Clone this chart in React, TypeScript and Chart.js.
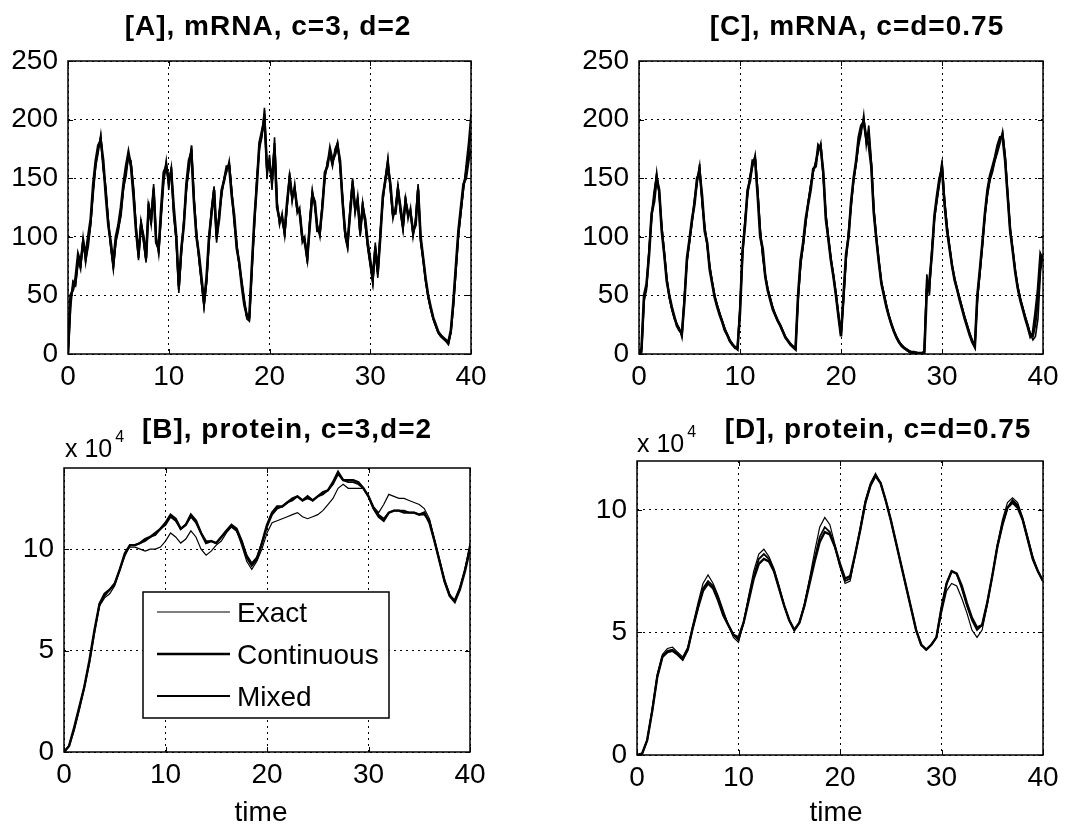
import React, { useEffect, useRef } from "react";
import { Chart, registerables } from "chart.js";

Chart.register(...registerables);

// ---------------- data ----------------
const SERIES_NAMES = ["Exact", "Continuous", "Mixed"];
const X_TICKS = [0, 10, 20, 30, 40];
const MRNA_Y_TICKS = [0, 50, 100, 150, 200, 250];
const PROTEIN_Y_TICKS = [0, 5, 10];
const MRNA_TIME_STEP = 0.25; // time between samples, mRNA panels
const PROTEIN_TIME_STEP = 0.5; // time between samples, protein panels (x 10^4)

// [A] mRNA, c=3, d=2
const exactA = [
  0, 45, 60, 58, 80, 72, 100, 78,
  95, 110, 140, 160, 172, 187, 160, 140,
  115, 90, 72, 95, 105, 120, 140, 155,
  168, 165, 140, 110, 80, 115, 95, 78,
  130, 110, 145, 100, 85, 120, 150, 165,
  140, 160, 120, 95, 52, 85, 115, 140,
  160, 178, 135, 105, 80, 60, 40, 60,
  95, 125, 143, 95, 120, 135, 150, 155,
  165, 140, 115, 95, 75, 60, 45, 30,
  28, 70, 110, 150, 175, 185, 210, 150,
  170, 140, 185, 130, 110, 120, 100, 125,
  155, 130, 145, 120, 125, 95, 100, 77,
  115, 140, 125, 110, 100, 130, 150, 165,
  170, 160, 175, 180, 160, 135, 100, 90,
  125, 150, 120, 135, 100, 130, 110, 90,
  75, 60, 95, 65, 105, 130, 150, 167,
  140, 115, 125, 145, 120, 105, 135, 115,
  125, 100, 115, 145, 95, 80, 62, 48,
  38, 30, 24, 18, 15, 13, 11, 8,
  18, 40, 70, 100, 120, 140, 160, 180,
  205,
];
const continuousA = [
  0, 50, 55, 65, 85, 78, 95, 85,
  100, 115, 145, 165, 178, 182, 165, 135,
  110, 95, 78, 100, 110, 125, 145, 160,
  172, 160, 135, 105, 85, 110, 100, 82,
  125, 115, 140, 95, 90, 125, 155, 160,
  150, 155, 125, 100, 58, 90, 110, 145,
  165, 172, 130, 100, 85, 65, 45, 65,
  100, 120, 140, 100, 115, 140, 148, 160,
  160, 135, 118, 90, 78, 58, 42, 33,
  32, 75, 115, 145, 180, 190, 200, 160,
  160, 150, 175, 125, 115, 115, 105, 130,
  150, 135, 140, 125, 120, 100, 95, 82,
  110, 135, 130, 105, 105, 125, 155, 160,
  175, 165, 170, 178, 165, 130, 105, 95,
  120, 145, 125, 130, 105, 125, 115, 95,
  80, 65, 90, 70, 100, 135, 148, 160,
  145, 120, 120, 140, 125, 110, 130, 120,
  120, 105, 110, 140, 100, 82, 64, 50,
  40, 31, 25, 19, 16, 14, 12, 10,
  20, 45, 75, 105, 125, 145, 150, 165,
  175,
];
const mixedA = [
  0, 40, 62, 60, 78, 75, 98, 80,
  92, 112, 138, 162, 175, 185, 158, 142,
  112, 92, 75, 98, 108, 118, 142, 152,
  170, 162, 142, 108, 82, 112, 98, 80,
  128, 112, 142, 98, 88, 118, 148, 162,
  145, 158, 118, 98, 55, 88, 112, 142,
  158, 175, 132, 102, 82, 62, 42, 62,
  98, 122, 140, 98, 118, 138, 150, 158,
  162, 138, 112, 92, 76, 62, 46, 32,
  30, 72, 112, 148, 178, 188, 205, 155,
  165, 145, 180, 128, 112, 118, 102, 128,
  152, 132, 142, 122, 122, 98, 98, 80,
  112, 138, 128, 108, 102, 128, 152, 162,
  172, 162, 172, 180, 162, 132, 102, 92,
  122, 148, 122, 132, 102, 128, 112, 92,
  78, 62, 92, 68, 102, 132, 150, 165,
  142, 118, 122, 142, 122, 108, 132, 118,
  122, 102, 112, 142, 98, 81, 63, 49,
  39, 30, 24, 18, 15, 13, 11, 9,
  19, 42, 72, 102, 122, 142, 155, 172,
  190,
];

// [C] mRNA, c=d=0.75
const exactC = [
  0, 0, 45, 55, 90, 115, 135, 155,
  135, 110, 88, 65, 48, 38, 30, 26,
  22, 14, 50, 78, 95, 112, 130, 145,
  162, 128, 110, 92, 76, 62, 50, 42,
  35, 28, 22, 17, 12, 9, 6, 5,
  40, 85, 115, 135, 150, 160, 170, 140,
  108, 82, 68, 56, 48, 40, 34, 29,
  25, 20, 15, 12, 9, 7, 5, 45,
  75, 92, 110, 130, 145, 155, 165, 172,
  180, 150, 120, 100, 82, 68, 52, 35,
  17, 45, 80, 105, 125, 148, 162, 178,
  188, 204, 178, 195, 165, 125, 100, 80,
  62, 52, 42, 33, 26, 20, 15, 11,
  8, 6, 4, 3, 2, 2, 1, 1,
  1, 2, 68, 50, 90, 115, 130, 145,
  165, 132, 110, 92, 76, 65, 56, 48,
  40, 32, 25, 18, 12, 7, 45, 68,
  92, 118, 135, 148, 155, 165, 172, 180,
  190, 170, 138, 108, 90, 72, 58, 48,
  40, 32, 25, 17, 12, 15, 30, 70,
  85,
];
const continuousC = [
  0, 5, 50, 60, 85, 120, 130, 150,
  140, 105, 85, 62, 50, 40, 32, 24,
  20, 18, 45, 82, 98, 115, 128, 150,
  155, 135, 105, 95, 72, 60, 48, 40,
  33, 27, 20, 16, 11, 8, 6, 4,
  35, 88, 110, 140, 148, 165, 165, 135,
  100, 90, 66, 54, 46, 38, 33, 28,
  24, 19, 14, 11, 8, 6, 4, 50,
  80, 95, 115, 128, 140, 158, 160, 178,
  175, 155, 115, 98, 80, 66, 50, 32,
  15, 50, 85, 100, 130, 150, 165, 185,
  195, 198, 185, 178, 160, 120, 98, 78,
  60, 50, 40, 32, 25, 19, 14, 10,
  7, 5, 4, 2, 1, 1, 1, 0,
  0, 1, 55, 62, 85, 118, 135, 150,
  158, 128, 105, 90, 75, 63, 55, 46,
  38, 30, 23, 16, 10, 6, 50, 72,
  95, 120, 140, 152, 160, 168, 178, 185,
  185, 165, 135, 105, 88, 70, 56, 46,
  38, 30, 23, 15, 18, 35, 55, 85,
  80,
];
const mixedC = [
  0, 2, 48, 58, 88, 118, 138, 152,
  138, 108, 86, 64, 49, 39, 31, 25,
  21, 16, 48, 80, 96, 113, 132, 148,
  160, 130, 108, 94, 74, 61, 49, 41,
  34, 28, 21, 16, 11, 8, 5, 5,
  38, 86, 112, 138, 152, 162, 168, 138,
  105, 85, 67, 55, 47, 39, 33, 28,
  24, 19, 14, 11, 8, 6, 5, 48,
  78, 93, 112, 129, 143, 156, 163, 175,
  178, 152, 118, 99, 81, 67, 51, 33,
  16, 48, 82, 102, 128, 149, 163, 182,
  192, 200, 182, 188, 162, 122, 99, 79,
  61, 51, 41, 32, 25, 19, 14, 10,
  7, 5, 3, 2, 1, 1, 1, 1,
  1, 2, 62, 55, 88, 116, 133, 148,
  162, 130, 108, 91, 75, 64, 55, 47,
  39, 31, 24, 17, 11, 6, 48, 70,
  94, 119, 138, 150, 158, 166, 175, 183,
  188, 168, 136, 106, 89, 71, 57, 47,
  39, 31, 24, 16, 15, 25, 45, 78,
  82,
];

// [B] protein, c=3, d=2  (units of 10^4)
const exactB = [
  0, 0.3, 1.2, 2.2, 3.2, 4.5, 6.0, 7.2, 7.6, 7.8,
  8.2, 9.0, 9.8, 10.1, 10.1, 10.0, 9.9, 10.0, 10.0, 10.1,
  10.4, 10.8, 10.6, 10.3, 10.5, 10.9, 10.6, 10.0, 9.7, 9.9,
  10.2, 10.4, 10.8, 11.1, 10.9, 10.2, 9.4, 9.0, 9.4, 10.0,
  10.8, 11.3, 11.4, 11.5, 11.6, 11.7, 11.8, 11.6, 11.5, 11.6,
  11.7, 11.9, 12.2, 12.5, 13.0, 13.2, 13.0, 13.0, 13.0, 13.0,
  12.6, 12.1, 11.8, 12.2, 12.7, 12.6, 12.5, 12.5, 12.4, 12.3,
  12.2, 12.0, 11.5, 10.5, 9.5, 8.5, 7.8, 7.4, 8.1, 9.0,
  10.3,
];
const continuousB = [
  0, 0.3, 1.2, 2.2, 3.2, 4.5, 6.0, 7.3, 7.8, 8.0,
  8.3, 9.0, 9.8, 10.2, 10.2, 10.3, 10.5, 10.6, 10.8, 11.0,
  11.3, 11.7, 11.5, 11.0, 11.2, 11.7, 11.4, 10.8, 10.3, 10.4,
  10.3, 10.6, 10.9, 11.2, 11.0, 10.4, 9.6, 9.2, 9.5, 10.3,
  11.2, 11.8, 12.1, 12.1, 12.3, 12.5, 12.6, 12.4, 12.6, 12.4,
  12.6, 12.8, 12.9, 13.3, 13.8, 13.4, 13.4, 13.4, 13.3, 13.0,
  12.6, 12.0, 11.6, 11.4, 11.8, 11.9, 11.9, 11.8, 11.8, 11.8,
  11.7, 11.8, 11.3, 10.4, 9.4, 8.4, 7.7, 7.4, 8.0, 8.9,
  10.0,
];
const mixedB = [
  0, 0.3, 1.1, 2.1, 3.2, 4.4, 5.9, 7.3, 7.7, 8.0,
  8.3, 9.0, 9.7, 10.2, 10.2, 10.3, 10.4, 10.6, 10.7, 11.0,
  11.2, 11.6, 11.4, 11.0, 11.2, 11.6, 11.3, 10.8, 10.4, 10.4,
  10.3, 10.6, 10.9, 11.1, 10.9, 10.4, 9.7, 9.3, 9.6, 10.3,
  11.1, 11.7, 12.0, 12.1, 12.3, 12.4, 12.6, 12.4, 12.5, 12.4,
  12.6, 12.7, 12.9, 13.2, 13.7, 13.4, 13.3, 13.3, 13.2, 13.0,
  12.6, 12.0, 11.7, 11.5, 11.8, 11.9, 11.9, 11.9, 11.8, 11.8,
  11.7, 11.7, 11.4, 10.4, 9.4, 8.4, 7.7, 7.5, 8.1, 9.0,
  10.1,
];

// [D] protein, c=d=0.75  (units of 10^4)
const exactD = [
  0, 0.05, 0.6, 1.9, 3.3, 4.1, 4.35, 4.4, 4.2, 4.0,
  4.4, 5.3, 6.2, 7.0, 7.35, 7.0, 6.5, 5.9, 5.3, 4.8,
  4.6, 5.4, 6.5, 7.5, 8.2, 8.4, 8.1, 7.6, 6.9, 6.1,
  5.5, 5.1, 5.4, 6.2, 7.2, 8.3, 9.3, 9.7, 9.4, 8.6,
  7.7, 7.0, 7.1, 8.2, 9.3, 10.4, 11.1, 11.5, 11.1, 10.4,
  9.6, 8.7, 7.8, 6.9, 6.0, 5.1, 4.5, 4.3, 4.5, 4.8,
  5.8, 6.7, 7.0, 6.9, 6.4, 5.8, 5.1, 4.8, 5.1, 6.1,
  7.3, 8.6, 9.6, 10.3, 10.5, 10.3, 9.7, 8.9, 8.1, 7.5,
  7.1,
];
const continuousD = [
  0, 0.05, 0.6, 1.8, 3.2, 4.0, 4.2, 4.25, 4.1, 3.9,
  4.3, 5.2, 6.0, 6.7, 7.0, 6.8, 6.3, 5.7, 5.3, 4.9,
  4.8, 5.4, 6.3, 7.2, 7.8, 8.0, 7.9, 7.5, 6.8, 6.1,
  5.5, 5.1, 5.4, 6.1, 7.0, 7.9, 8.7, 9.1, 9.0, 8.5,
  7.8, 7.2, 7.3, 8.2, 9.2, 10.3, 11.0, 11.4, 11.1, 10.4,
  9.6, 8.7, 7.8, 6.9, 6.0, 5.1, 4.5, 4.3, 4.5, 4.8,
  6.0, 7.0, 7.5, 7.4, 6.9, 6.2, 5.6, 5.2, 5.3, 6.2,
  7.3, 8.5, 9.4, 10.1, 10.3, 10.1, 9.6, 8.8, 8.0, 7.5,
  7.1,
];
const mixedD = [
  0, 0.05, 0.6, 1.8, 3.2, 4.0, 4.25, 4.3, 4.15, 3.9,
  4.3, 5.2, 6.0, 6.8, 7.1, 6.9, 6.4, 5.8, 5.3, 4.9,
  4.7, 5.4, 6.4, 7.3, 8.0, 8.2, 8.0, 7.5, 6.8, 6.1,
  5.5, 5.1, 5.4, 6.1, 7.1, 8.0, 8.9, 9.3, 9.1, 8.5,
  7.7, 7.1, 7.2, 8.2, 9.2, 10.3, 11.0, 11.4, 11.1, 10.4,
  9.6, 8.7, 7.8, 6.9, 6.0, 5.1, 4.5, 4.3, 4.5, 4.8,
  6.0, 7.0, 7.5, 7.4, 6.8, 6.1, 5.5, 5.1, 5.3, 6.2,
  7.3, 8.5, 9.4, 10.1, 10.4, 10.2, 9.6, 8.8, 8.0, 7.5,
  7.1,
];

// ---------------- styling / layout ----------------
const FONT = '"Liberation Sans", Arial, Helvetica, sans-serif';
const PROTEIN_LINE_WIDTHS = [1.2, 2.4, 1.8];
const MRNA_LINE_WIDTHS = [1.6, 2.6, 2.0];
const TICK_FONT_SIZE = 28;
const TITLE_FONT = `bold 28px ${FONT}`;
const INNER_TICK = 5;

type Panel = {
  key: string;
  title: string;
  canvas: { left: number; top: number; width: number; height: number };
  plot: { l: number; t: number; r: number; b: number };
  yMax: number;
  yTicks: number[];
  step: number;
  series: number[][];
  widths: number[];
  titleX: number;
  titleY: number;
  multiplier?: { x: number; y: number };
  xLabel?: { x: number; y: number };
  legend?: { l: number; t: number; r: number; b: number };
};

const PANELS: Panel[] = [
  {
    key: "A",
    title: "[A], mRNA, c=3, d=2",
    canvas: { left: 0, top: 0, width: 540, height: 400 },
    plot: { l: 68, t: 61, r: 471, b: 354 },
    yMax: 250,
    yTicks: MRNA_Y_TICKS,
    step: MRNA_TIME_STEP,
    series: [exactA, continuousA, mixedA],
    widths: MRNA_LINE_WIDTHS,
    titleX: 268,
    titleY: 35,
  },
  {
    key: "C",
    title: "[C], mRNA, c=d=0.75",
    canvas: { left: 540, top: 0, width: 538, height: 400 },
    plot: { l: 639, t: 61, r: 1043, b: 354 },
    yMax: 250,
    yTicks: MRNA_Y_TICKS,
    step: MRNA_TIME_STEP,
    series: [exactC, continuousC, mixedC],
    widths: MRNA_LINE_WIDTHS,
    titleX: 857,
    titleY: 35,
  },
  {
    key: "B",
    title: "[B], protein, c=3,d=2",
    canvas: { left: 0, top: 400, width: 540, height: 429 },
    plot: { l: 64, t: 468, r: 470, b: 752 },
    yMax: 14,
    yTicks: PROTEIN_Y_TICKS,
    step: PROTEIN_TIME_STEP,
    series: [exactB, continuousB, mixedB],
    widths: PROTEIN_LINE_WIDTHS,
    titleX: 287,
    titleY: 438,
    multiplier: { x: 65, y: 457 },
    xLabel: { x: 261, y: 821 },
    legend: { l: 143, t: 592, r: 389, b: 718 },
  },
  {
    key: "D",
    title: "[D], protein, c=d=0.75",
    canvas: { left: 540, top: 400, width: 538, height: 429 },
    plot: { l: 637, t: 461, r: 1043, b: 755 },
    yMax: 12,
    yTicks: PROTEIN_Y_TICKS,
    step: PROTEIN_TIME_STEP,
    series: [exactD, continuousD, mixedD],
    widths: PROTEIN_LINE_WIDTHS,
    titleX: 878,
    titleY: 438,
    multiplier: { x: 637, y: 452 },
    xLabel: { x: 836, y: 821 },
  },
];

function decorPlugin(p: Panel) {
  const ox = p.canvas.left;
  const oy = p.canvas.top;
  return {
    id: "decor" + p.key,
    afterDraw(chart: any) {
      const ctx = chart.ctx as CanvasRenderingContext2D;
      const { left, top, right, bottom } = chart.chartArea;
      const xs = chart.scales.x;
      const ys = chart.scales.y;
      ctx.save();
      // axes box
      ctx.strokeStyle = "#000";
      ctx.lineWidth = 1.5;
      ctx.strokeRect(left, top, right - left, bottom - top);
      // inward tick marks
      ctx.lineWidth = 1;
      ctx.beginPath();
      for (const v of X_TICKS) {
        const x = Math.round(xs.getPixelForValue(v)) + 0.5;
        ctx.moveTo(x, bottom);
        ctx.lineTo(x, bottom - INNER_TICK);
        ctx.moveTo(x, top);
        ctx.lineTo(x, top + INNER_TICK);
      }
      for (const v of p.yTicks) {
        const y = Math.round(ys.getPixelForValue(v)) + 0.5;
        ctx.moveTo(left, y);
        ctx.lineTo(left + INNER_TICK, y);
        ctx.moveTo(right, y);
        ctx.lineTo(right - INNER_TICK, y);
      }
      ctx.stroke();

      ctx.fillStyle = "#000";
      // title
      ctx.font = TITLE_FONT;
      (ctx as any).letterSpacing = "1px";
      ctx.textAlign = "center";
      ctx.textBaseline = "alphabetic";
      ctx.fillText(p.title, p.titleX - ox, p.titleY - oy);
      (ctx as any).letterSpacing = "0px";

      // multiplier
      if (p.multiplier) {
        ctx.textAlign = "left";
        ctx.font = `25px ${FONT}`;
        ctx.fillText("x 10", p.multiplier.x - ox, p.multiplier.y - oy);
        const w = ctx.measureText("x 10").width;
        ctx.font = `16px ${FONT}`;
        ctx.fillText("4", p.multiplier.x - ox + w + 3, p.multiplier.y - oy - 15);
      }
      // x label
      if (p.xLabel) {
        ctx.textAlign = "center";
        ctx.font = `${TICK_FONT_SIZE}px ${FONT}`;
        ctx.fillText("time", p.xLabel.x - ox, p.xLabel.y - oy);
      }
      // legend
      if (p.legend) {
        const L = p.legend;
        const lx = L.l - ox;
        const ly = L.t - oy;
        const lw = L.r - L.l;
        const lh = L.b - L.t;
        ctx.fillStyle = "#fff";
        ctx.fillRect(lx, ly, lw, lh);
        ctx.strokeStyle = "#000";
        ctx.lineWidth = 1.5;
        ctx.strokeRect(lx, ly, lw, lh);
        ctx.font = `${TICK_FONT_SIZE}px ${FONT}`;
        ctx.textAlign = "left";
        ctx.textBaseline = "middle";
        ctx.fillStyle = "#000";
        const datasets = chart.data.datasets;
        const rowH = lh / datasets.length;
        datasets.forEach((ds: any, i: number) => {
          const cy = ly + rowH * (i + 0.5) + 1;
          ctx.lineWidth = ds.borderWidth;
          ctx.beginPath();
          ctx.moveTo(lx + 14, cy - 2);
          ctx.lineTo(lx + 87, cy - 2);
          ctx.stroke();
          ctx.fillText(ds.label, lx + 94, cy);
        });
      }
      ctx.restore();
    },
  };
}

function buildChart(canvas: HTMLCanvasElement, p: Panel) {
  const yAxisWidth = p.plot.l - p.canvas.left;
  const xAxisHeight = p.canvas.top + p.canvas.height - p.plot.b;
  const padTop = p.plot.t - p.canvas.top;
  const padRight = p.canvas.left + p.canvas.width - p.plot.r;

  const datasets = SERIES_NAMES.map((name, k) => ({
    label: name,
    data: p.series[k].map((v, i) => ({ x: i * p.step, y: v })),
    borderColor: "#000",
    backgroundColor: "#000",
    borderWidth: p.widths[k],
    pointRadius: 0,
    tension: 0,
    fill: false,
  }));

  const tickFont = { family: FONT, size: TICK_FONT_SIZE };

  return new Chart(canvas, {
    type: "line",
    data: { datasets },
    options: {
      animation: false,
      responsive: false,
      events: [],
      layout: { padding: { left: 0, top: padTop, right: padRight, bottom: 0 } },
      plugins: { legend: { display: false }, tooltip: { enabled: false }, title: { display: false } },
      scales: {
        x: {
          type: "linear",
          min: 0,
          max: 40,
          afterBuildTicks: (s: any) => {
            s.ticks = X_TICKS.map((v) => ({ value: v }));
          },
          afterFit: (s: any) => {
            s.height = xAxisHeight;
            s.paddingLeft = 0;
            s.paddingRight = 0;
          },
          ticks: { autoSkip: false, maxRotation: 0, padding: 6, color: "#000", font: tickFont },
          grid: { color: "#000", lineWidth: 1, drawTicks: false },
          border: { display: false, dash: [2, 4] },
        },
        y: {
          type: "linear",
          min: 0,
          max: p.yMax,
          afterBuildTicks: (s: any) => {
            s.ticks = p.yTicks.map((v) => ({ value: v }));
          },
          afterFit: (s: any) => {
            s.width = yAxisWidth;
            s.paddingTop = 0;
            s.paddingBottom = 0;
          },
          ticks: { padding: 10, color: "#000", font: tickFont },
          grid: { color: "#000", lineWidth: 1, drawTicks: false },
          border: { display: false, dash: [2, 4] },
        },
      },
    },
    plugins: [decorPlugin(p)],
  } as any);
}

export default function App() {
  const refs = useRef<(HTMLCanvasElement | null)[]>([]);

  useEffect(() => {
    const charts = PANELS.map((p, i) => buildChart(refs.current[i] as HTMLCanvasElement, p));
    return () => charts.forEach((c) => c.destroy());
  }, []);

  return (
    <div
      style={{
        position: "fixed",
        left: 0,
        top: 0,
        width: 1078,
        height: 829,
        background: "#fff",
        overflow: "hidden",
      }}
    >
      {PANELS.map((p, i) => (
        <canvas
          key={p.key}
          ref={(el) => {
            refs.current[i] = el;
          }}
          width={p.canvas.width}
          height={p.canvas.height}
          style={{ position: "absolute", left: p.canvas.left, top: p.canvas.top }}
        />
      ))}
    </div>
  );
}
